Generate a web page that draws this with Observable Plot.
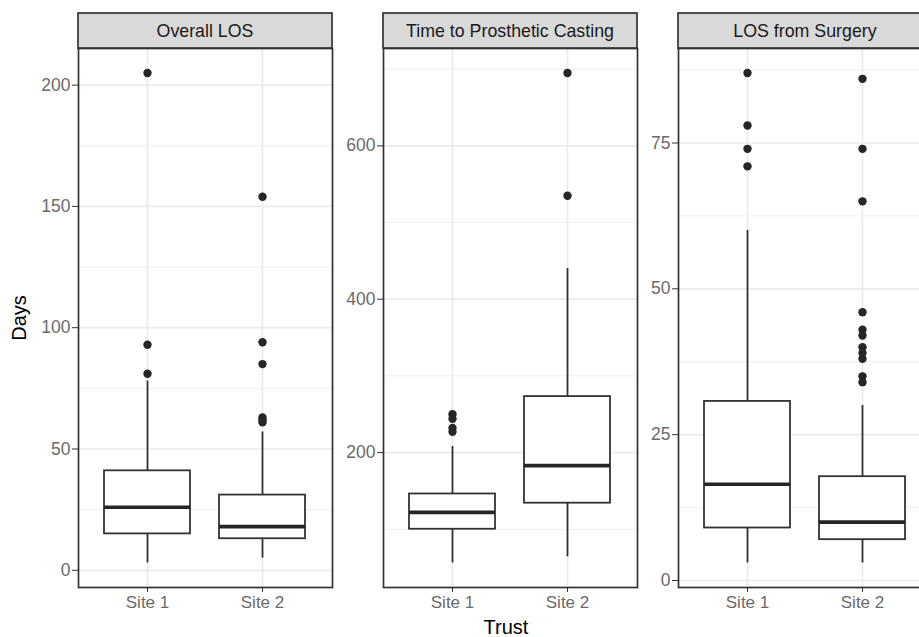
<!DOCTYPE html>
<html>
<head>
<meta charset="utf-8">
<script src="https://cdn.jsdelivr.net/npm/d3@7"></script>
<script src="https://cdn.jsdelivr.net/npm/@observablehq/plot@0.6"></script>
<style>
  html, body { margin: 0; padding: 0; background: #fff; }
  #chart { position: relative; width: 919px; height: 637px; overflow: hidden; font-family: "Liberation Sans", Arial, sans-serif; }
  .panel { position: absolute; top: 0; }
  #ylab { position: absolute; left: 19px; top: 318px; transform: translate(-50%, -50%) rotate(-90deg); font-size: 20px; color: #000; white-space: nowrap; }
  #xlab { position: absolute; left: 506px; top: 627px; transform: translate(-50%, -50%); font-size: 20px; color: #000; white-space: nowrap; }
</style>
</head>
<body>
<div id="chart">
  <div id="ylab">Days</div>
  <div id="xlab">Trust</div>
</div>
<script>
// ---- data ----
const facets = ["Overall LOS", "Time to Prosthetic Casting", "LOS from Surgery"];
const sites = ["Site 1", "Site 2"];
const lowWhisker  = [[3, 5],   [56, 64],   [3, 3]];
const q1          = [[15, 13], [100, 134], [9, 7]];
const median      = [[26, 18], [122, 183], [16.5, 10]];
const q3          = [[41, 31], [146, 273], [30.7, 17.8]];
const highWhisker = [[78, 57], [208, 440], [60, 30]];
const outliers = [
  [[205, 93, 81], [154, 94, 85, 63, 62, 61]],
  [[250, 244, 232, 227], [695, 535]],
  [[87, 78, 74, 71], [86, 74, 65, 46, 43, 42, 40, 39, 38, 35, 34]]
];
const majorTicks = [[0, 50, 100, 150, 200], [200, 400, 600], [0, 25, 50, 75]];
const minorTicks = [[25, 75, 125, 175], [100, 300, 500, 700], [12.5, 37.5, 62.5, 87.5]];

// ---- layout ----
const panelLeft = [0, 340, 645];
const panelWidth = [340, 305, 295];
const marginLeftArr = [78, 43, 33];
const H = 637, MT = 48, MB = 50, MR = 8;
const stripTop = 13, stripH = 35;
const font = "Liberation Sans, Arial, sans-serif";

const chart = document.getElementById("chart");

facets.forEach((name, f) => {
  const boxes = sites.map((s, i) => ({
    site: s, lo: lowWhisker[f][i], q1: q1[f][i], med: median[f][i], q3: q3[f][i], hi: highWhisker[f][i]
  }));
  const pts = sites.flatMap((s, i) => outliers[f][i].map(v => ({site: s, value: v})));
  const all = boxes.flatMap(b => [b.lo, b.hi]).concat(pts.map(p => p.value));
  const mn = d3.min(all), mx = d3.max(all), ex = (mx - mn) * 0.05;

  const svg = Plot.plot({
    width: panelWidth[f], height: H,
    marginLeft: marginLeftArr[f], marginRight: MR, marginTop: MT, marginBottom: MB,
    style: {fontFamily: font, background: "transparent", overflow: "visible"},
    x: {domain: sites, type: "band", paddingInner: 0.25, paddingOuter: 0.225, label: null},
    y: {domain: [mn - ex, mx + ex], label: null},
    marks: [
      Plot.gridY(minorTicks[f], {stroke: "#ededed", strokeOpacity: 1, strokeWidth: 0.9}),
      Plot.gridY(majorTicks[f], {stroke: "#ebebeb", strokeOpacity: 1, strokeWidth: 1.7}),
      Plot.gridX(sites, {stroke: "#ebebeb", strokeOpacity: 1, strokeWidth: 1.7}),
      Plot.ruleX(boxes, {x: "site", y1: "q3", y2: "hi", stroke: "#333", strokeWidth: 1.8}),
      Plot.ruleX(boxes, {x: "site", y1: "lo", y2: "q1", stroke: "#333", strokeWidth: 1.8}),
      Plot.barY(boxes, {x: "site", y1: "q1", y2: "q3", fill: "white", stroke: "#333", strokeWidth: 1.8}),
      Plot.tickY(boxes, {x: "site", y: "med", stroke: "#262626", strokeWidth: 3.6}),
      Plot.dot(pts, {x: "site", y: "value", r: 4.2, fill: "#262626", stroke: "none"}),
      Plot.frame({stroke: "#333", strokeWidth: 1.7}),
      Plot.axisY(majorTicks[f], {tickSize: 6, tickPadding: 2, stroke: "#333", fill: "#6a6a6a", fontSize: 17.5, label: null}),
      Plot.axisX({tickSize: 5, tickPadding: 3, stroke: "#333", fill: "#6a6a6a", fontSize: 17, label: null})
    ]
  });
  svg.classList.add("panel");
  svg.style.left = panelLeft[f] + "px";

  const pw = panelWidth[f] - marginLeftArr[f] - MR;
  const g = d3.select(svg).append("g");
  g.append("rect")
    .attr("x", marginLeftArr[f]).attr("y", stripTop)
    .attr("width", pw).attr("height", stripH)
    .attr("fill", "#d9d9d9").attr("stroke", "#333").attr("stroke-width", 1.7);
  g.append("text")
    .attr("x", marginLeftArr[f] + pw / 2).attr("y", stripTop + stripH / 2)
    .attr("text-anchor", "middle").attr("dominant-baseline", "central")
    .attr("font-size", 17.8).attr("font-family", font).attr("fill", "#1a1a1a")
    .text(name);

  chart.appendChild(svg);
});
</script>
</body>
</html>
